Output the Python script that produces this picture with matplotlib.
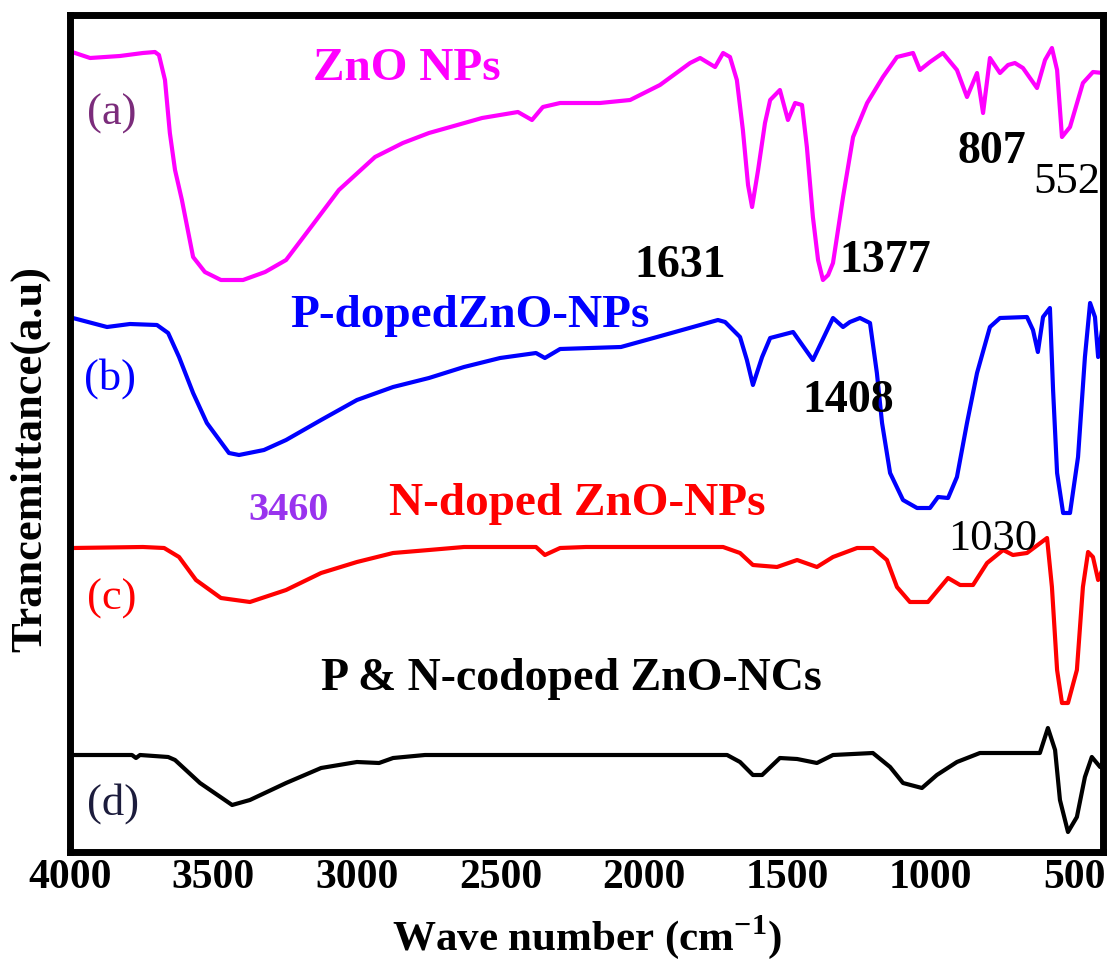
import matplotlib
matplotlib.use("Agg")
import matplotlib.pyplot as plt

plt.rcParams['font.family'] = ['Liberation Serif', 'DejaVu Serif']
plt.rcParams['mathtext.fontset'] = 'custom'
plt.rcParams['mathtext.rm'] = 'Liberation Serif'
plt.rcParams['mathtext.bf'] = 'Liberation Serif:bold'

# ---------------- data (wavenumber cm-1, transmittance a.u. with offsets) ----------------
wn_a = [3993, 3930, 3826, 3746, 3704, 3690, 3669, 3652, 3634, 3610, 3571, 3530, 3474, 3397,
        3320, 3247, 3160, 3063, 2937, 2840, 2749, 2650, 2564, 2439, 2390, 2352, 2292, 2153, 2048, 1944,
        1839, 1804, 1752, 1724, 1700, 1676, 1655, 1637, 1623, 1602, 1578, 1560, 1526, 1498,
        1473, 1449, 1432, 1411, 1393, 1376, 1358, 1341, 1306, 1271, 1222, 1167, 1118, 1062,
        1038, 1003, 958, 909, 874, 839, 818, 794, 759, 731, 707, 679, 630, 602, 578, 560,
        543, 515, 470, 435, 400]
t_a = [808, 802, 804, 807, 808, 805, 780, 727, 690, 660, 603, 588, 580, 580,
       588, 600, 633, 670, 703, 717, 727, 735, 742, 748, 740, 753, 757, 757, 760, 775,
       797, 802, 793, 807, 803, 780, 730, 675, 653, 690, 737, 760, 770, 740,
       757, 755, 713, 643, 600, 580, 585, 597, 663, 723, 757, 783, 803, 807,
       790, 798, 807, 790, 763, 787, 747, 802, 787, 795, 797, 792, 772, 800, 812, 790,
       723, 733, 777, 788, 787]

wn_b = [3990, 3871, 3791, 3697, 3658, 3620, 3571, 3523, 3446, 3411, 3324, 3247, 3125, 3000,
        2874, 2749, 2627, 2501, 2376, 2345, 2292, 2080, 1954, 1829, 1742, 1717, 1665, 1641,
        1620, 1588, 1560, 1480, 1411, 1341, 1306, 1282, 1247, 1212, 1188, 1170, 1142, 1097,
        1048, 1003, 975, 940, 909, 874, 839, 794, 759, 665, 644, 627, 609, 585, 574, 560,
        539, 515, 487, 463, 445, 428, 417, 400]
t_b = [542, 533, 536, 535, 527, 503, 467, 437, 407, 405, 410, 420, 440, 460,
       473, 482, 493, 502, 507, 502, 511, 513, 523, 533, 540, 538, 523, 500,
       475, 503, 522, 528, 500, 542, 533, 538, 542, 537, 487, 437, 387, 360,
       352, 352, 363, 362, 383, 437, 487, 533, 542, 543, 530, 508, 543, 552, 470, 387,
       347, 347, 403, 503, 557, 543, 503, 537]

wn_c = [3990, 3746, 3672, 3620, 3561, 3474, 3373, 3247, 3125, 3000, 2874, 2749, 2627, 2376,
        2345, 2292, 2202, 1724, 1665, 1620, 1536, 1466, 1397, 1341, 1257, 1202, 1153, 1118,
        1073, 1010, 975, 940, 898, 853, 804, 748, 714, 665, 595, 578, 560, 543, 522, 491,
        470, 452, 435, 417, 400]
t_c = [312, 313, 312, 303, 280, 262, 258, 270, 287, 298, 307, 310, 313, 313,
       305, 312, 313, 313, 307, 295, 293, 300, 293, 303, 312, 312, 300, 273,
       258, 258, 270, 282, 275, 275, 297, 310, 305, 307, 322, 273, 190, 157, 157, 190,
       273, 308, 303, 280, 292]

wn_d = [3990, 3784, 3770, 3756, 3658, 3634, 3547, 3435, 3373, 3247, 3125, 3000, 2923, 2874,
        2763, 1710, 1665, 1620, 1588, 1526, 1466, 1397, 1341, 1202, 1142, 1097, 1031, 979,
        909, 829, 620, 592, 567, 550, 522, 491, 463, 439, 410, 400]
t_d = [105, 105, 102, 105, 103, 100, 77, 55, 60, 77, 92, 98, 97, 102,
       105, 105, 98, 85, 85, 102, 101, 97, 105, 107, 93, 77, 72, 85,
       98, 107, 107, 132, 110, 60, 28, 43, 83, 103, 93, 97]

x_ticks = [4000, 3500, 3000, 2500, 2000, 1500, 1000, 500]

series_labels = ["ZnO NPs", "P-dopedZnO-NPs", "N-doped ZnO-NPs", "P & N-codoped ZnO-NCs"]
letters = ["(a)", "(b)", "(c)", "(d)"]
peak_labels = ["1631", "1377", "807", "552", "1408", "1030", "3460"]

# ---------------- figure ----------------
fig = plt.figure(figsize=(11.1, 9.68), dpi=100)
ax = fig.add_axes([70 / 1110, 1 - 852 / 968, 1033 / 1110, 837 / 968])

lw = 3.0
ax.plot(wn_a, t_a, color='#FF00FF', lw=lw, solid_joinstyle='round')
ax.plot(wn_b, t_b, color='#0000FF', lw=lw, solid_joinstyle='round')
ax.plot(wn_c, t_c, color='#FF0000', lw=lw, solid_joinstyle='round')
ax.plot(wn_d, t_d, color='black', lw=lw, solid_joinstyle='round')

ax.set_xlim(4000, 400)
ax.set_ylim(8, 845)
ax.set_xticks(x_ticks)
ax.set_xticklabels([str(v) for v in x_ticks], fontsize=30, fontweight='bold')
ax.set_yticks([])
ax.tick_params(axis='x', length=0, pad=5)
for s in ax.spines.values():
    s.set_linewidth(5)

ax.set_xlabel(r'Wave number (cm$^{\mathbf{-1}}$)', fontsize=31, fontweight='bold', labelpad=12)
ax.set_ylabel('Trancemittance(a.u)', fontsize=32, fontweight='bold', va='center')
ax.yaxis.set_label_coords(-0.039, 0.47)

# series labels
ax.text(2826, 780, series_labels[0], color='#FF00FF', fontsize=34, fontweight='bold', ha='center', va='baseline')
ax.text(2606, 533, series_labels[1], color='#0000FF', fontsize=34, fontweight='bold', ha='center', va='baseline')
ax.text(2233, 345, series_labels[2], color='#FF0000', fontsize=34, fontweight='bold', ha='center', va='baseline')
ax.text(2254, 170, series_labels[3], color='black', fontsize=33, fontweight='bold', ha='center', va='baseline')

# letters
ax.text(3854, 735, letters[0], color='#7B2C7B', fontsize=32, ha='center', va='baseline')
ax.text(3861, 470, letters[1], color='#0000FF', fontsize=32, ha='center', va='baseline')
ax.text(3854, 250, letters[2], color='#FF0000', fontsize=32, ha='center', va='baseline')
ax.text(3850, 45, letters[3], color='#1C1C3C', fontsize=32, ha='center', va='baseline')

# peak labels
ax.text(1874, 583, peak_labels[0], color='black', fontsize=33, fontweight='bold', ha='center', va='baseline')
ax.text(1160, 588, peak_labels[1], color='black', fontsize=33, fontweight='bold', ha='center', va='baseline')
ax.text(787, 697, peak_labels[2], color='black', fontsize=33, fontweight='bold', ha='center', va='baseline')
ax.text(526, 667, peak_labels[3], color='black', fontsize=32, ha='center', va='baseline')
ax.text(1289, 448, peak_labels[4], color='black', fontsize=33, fontweight='bold', ha='center', va='baseline')
ax.text(783, 310, peak_labels[5], color='black', fontsize=32, ha='center', va='baseline')
ax.text(3237, 340, peak_labels[6], color='#9933EE', fontsize=29, fontweight='bold', ha='center', va='baseline')

fig.savefig('out.png', dpi=100)
